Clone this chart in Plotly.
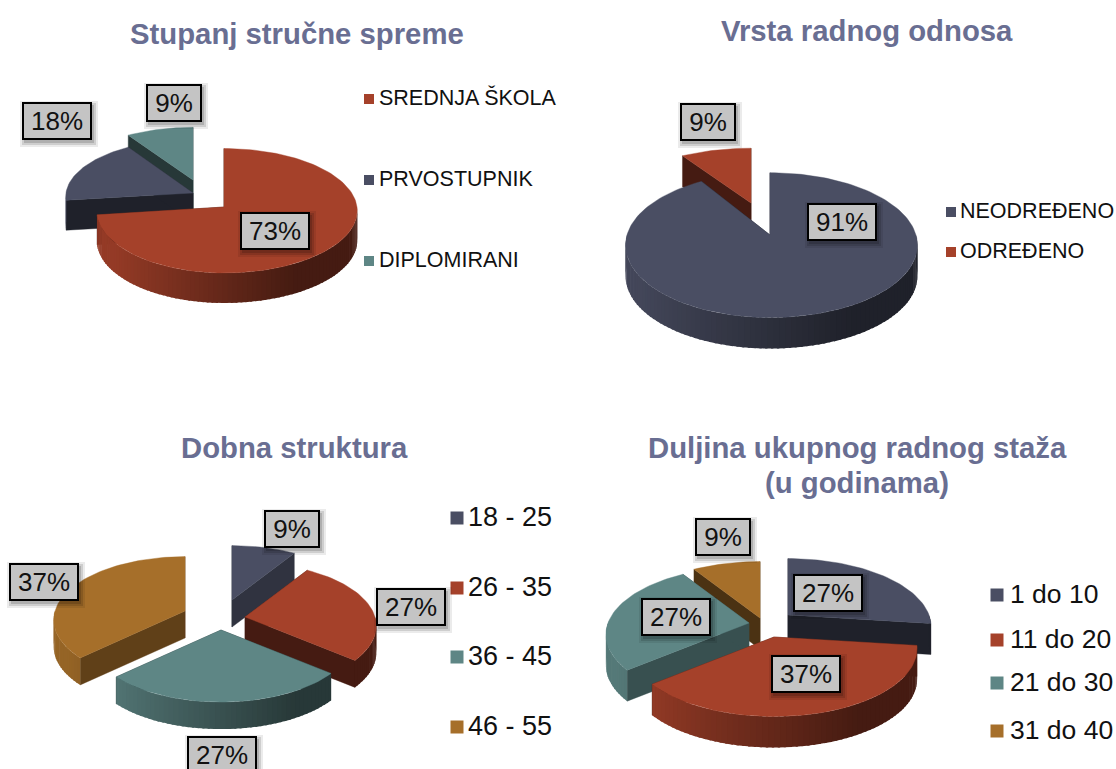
import math
import plotly.graph_objects as go

# ---- data ----
titles = [["Stupanj stručne spreme"], ["Vrsta radnog odnosa"], ["Dobna struktura"],
          ["Duljina ukupnog radnog staža", "(u godinama)"]]

spreme_labels = ["SREDNJA ŠKOLA", "PRVOSTUPNIK", "DIPLOMIRANI"]
spreme_values = [73, 18, 9]

odnos_labels = ["NEODREĐENO", "ODREĐENO"]
odnos_values = [91, 9]

dob_labels = ["18 - 25", "26 - 35", "36 - 45", "46 - 55"]
dob_values = [9, 27, 27, 37]

staz_labels = ["1 do 10", "11 do 20", "21 do 30", "31 do 40"]
staz_values = [27, 37, 27, 9]

# ---- style ----
RED, NAVY, TEAL, ORANGE = "#A5412A", "#4A4E63", "#5E8685", "#A66F2A"
TITLE_COLOR = "#696E92"
FONT = "Liberation Sans, Arial, sans-serif"


def shade(hex_color, f):
    r, g, b = (int(hex_color[i:i + 2], 16) for i in (1, 3, 5))
    return f"rgb({r * f:.0f},{g * f:.0f},{b * f:.0f})"


pies = [
    dict(values=spreme_values, labels=spreme_labels, colors=[RED, NAVY, TEAL],
         c=(224, 207), rxl=127, rxr=133, ry=62, k=0.06, h=30,
         offset=[(0, 0), (-31, -14), (-31, -27)], order=[2, 1, 0],
         ys=[1, .92, .9], cut=[.42, .42, .42],
         boxes=[(275, 231), (57, 121), (174, 103)],
         legend=[(369, 100), (369, 181), (369, 262)], legend_size=21.5, sq=10, gap=8),
    dict(values=odnos_values, labels=odnos_labels, colors=[NAVY, RED],
         c=(770, 235), rxl=143, rxr=146, ry=71, k=0.14, h=31,
         offset=[(0, 0), (-19, -32)], order=[1, 0],
         ys=[1, .88], cut=[.42, .42],
         boxes=[(842, 222), (708, 122)],
         legend=[(951, 213), (951, 253)], legend_size=21.5, sq=10, gap=7),
    dict(values=dob_values, labels=dob_labels, colors=[NAVY, RED, TEAL, ORANGE],
         c=(218, 614), rxl=130, rxr=130, ry=62, k=0.14, h=27,
         offset=[(14, -14), (27, 3), (3, 16), (-33, -3)], order=[0, 1, 3, 2],
         ys=[1, 1, 1, 1], cut=[.65, .42, .42, .58],
         boxes=[(292, 529), (411, 607), (222, 755), (44, 582)],
         legend=[(457, 519), (457, 589), (457, 658), (457, 728)], legend_size=27, sq=13, gap=9),
    dict(values=staz_values, labels=staz_labels, colors=[NAVY, RED, TEAL, ORANGE],
         c=(774, 637), rxl=141, rxr=141, ry=66, k=0.17, h=31,
         offset=[(14, -22), (0, 0), (-25, -14), (-14, -19)], order=[3, 0, 2, 1],
         ys=[1, 1, 1, 1], cut=[.42, .42, .6, .45],
         boxes=[(828, 593), (806, 674), (676, 617), (723, 537)],
         legend=[(997, 596), (997, 641), (997, 684), (997, 732)], legend_size=26.5, sq=13, gap=11),
]

title_pos = [[(297, 33)], [(867, 30)], [(294, 447)], [(857, 447), (857, 482)]]

fig = go.Figure()


def project(p, ax, ay, theta, ys=1.0):
    X, Y = math.sin(theta), math.cos(theta)
    s = 1 / (1 + p["k"] * Y)
    rx = p["rxl"] if X < 0 else p["rxr"]
    return ax + rx * X * s, ay - p["ry"] * ys * Y * s


def poly(xs, ys, color, lw=0.4):
    fig.add_trace(go.Scatter(x=xs + xs[:1], y=ys + ys[:1], mode="lines", fill="toself",
                             fillcolor=color, line=dict(color=color, width=lw),
                             hoverinfo="skip", showlegend=False))


for p in pies:
    total = sum(p["values"])
    edges = [0.0]
    for v in p["values"]:
        edges.append(edges[-1] + v / total * 2 * math.pi)
    for i in p["order"]:
        col = p["colors"][i]
        a, b = edges[i], edges[i + 1]
        ax, ay = p["c"][0] + p["offset"][i][0], p["c"][1] + p["offset"][i][1]
        h = p["h"]
        ysc = p["ys"][i]
        # radial cut faces
        for th in (a, b):
            ex, ey = project(p, ax, ay, th, ysc)
            poly([ax, ex, ex, ax], [ay, ey, ey + h, ay + h], shade(col, p["cut"][i]))
        # outer rim, shaded left to right
        n = max(2, int((b - a) / math.radians(2)))
        for j in range(n):
            t0, t1 = a + (b - a) * j / n, a + (b - a) * (j + 1) / n
            if math.cos((t0 + t1) / 2) > 0:
                continue
            x0, y0 = project(p, ax, ay, t0, ysc)
            x1, y1 = project(p, ax, ay, t1 + (b - a) / n * 0.4 if j < n - 1 else t1, ysc)
            f = min(0.9, max(0.42, 0.6 - 0.36 * math.sin((t0 + t1) / 2)))
            poly([x0, x1, x1, x0], [y0, y1, y1 + h, y0 + h], shade(col, f), lw=0)
        # top face
        m = max(8, int((b - a) / math.radians(2)))
        pts = [project(p, ax, ay, a + (b - a) * j / m, ysc) for j in range(m + 1)]
        poly([ax] + [q[0] for q in pts], [ay] + [q[1] for q in pts], col)

    # percentage boxes with soft shadow
    for v, (bx, by) in zip(p["values"], p["boxes"]):
        w = 56 if v < 10 else 70
        for grow, alpha in ((4, .08), (2, .12), (0, .15)):
            fig.add_shape(type="rect", xref="x", yref="y", layer="above", line_width=0,
                          x0=bx - w / 2 + 2 - grow, x1=bx + w / 2 + 2 + grow,
                          y0=by - 19 + 3 - grow, y1=by + 19 + 3 + grow,
                          fillcolor=f"rgba(0,0,0,{alpha})")
        fig.add_annotation(x=bx, y=by, xref="x", yref="y", text=f"{v}%", showarrow=False,
                           width=w - 4, height=34, bgcolor="#C4C4C4", bordercolor="#000000",
                           borderwidth=2, borderpad=0, align="center", valign="middle",
                           font=dict(family=FONT, size=26, color="#111111"))

    # legends
    lx = [q[0] for q in p["legend"]]
    ly = [q[1] for q in p["legend"]]
    fig.add_trace(go.Scatter(
        x=lx, y=[y - 1 for y in ly], mode="markers",
        marker=dict(symbol="square", size=p["sq"], color=p["colors"], line=dict(width=0)),
        hoverinfo="skip", showlegend=False))
    fig.add_trace(go.Scatter(
        x=[x + p["gap"] + 2 for x in lx], y=ly, mode="text", text=p["labels"],
        textposition="middle right",
        textfont=dict(family=FONT, size=p["legend_size"], color="#111111"),
        hoverinfo="skip", showlegend=False))

for lines, positions in zip(titles, title_pos):
    for t, (tx, ty) in zip(lines, positions):
        fig.add_annotation(x=tx, y=ty, xref="x", yref="y", text=f"<b>{t}</b>", showarrow=False,
                           align="center", font=dict(family=FONT, size=29.3, color=TITLE_COLOR))

fig.update_layout(
    width=1116, height=769, margin=dict(l=0, r=0, t=0, b=0),
    paper_bgcolor="white", plot_bgcolor="white", showlegend=False,
    xaxis=dict(range=[0, 1116], visible=False, fixedrange=True),
    yaxis=dict(range=[769, 0], visible=False, fixedrange=True),
)

fig.write_html("out.html", config=dict(displayModeBar=False),
               post_script="document.body.style.margin='0';document.body.style.overflow='hidden';")
